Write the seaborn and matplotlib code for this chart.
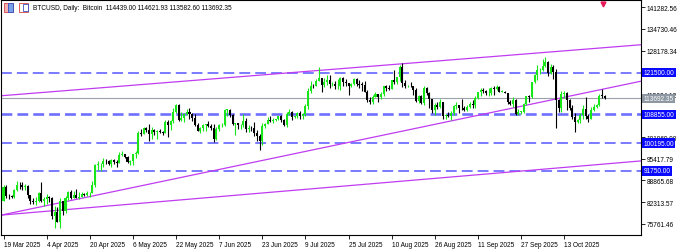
import numpy as np
import pandas as pd
import matplotlib
matplotlib.use("Agg")
import matplotlib.pyplot as plt
import matplotlib.dates as mdates
import matplotlib.transforms as mtransforms
from matplotlib.patches import Rectangle
import seaborn as sns

sns.set_theme(style="white")
plt.rcParams["font.family"] = ["Liberation Sans", "DejaVu Sans"]

# ---------------- data ----------------
start_date = "2025-03-19"
first_open = 82700

close_mar = [86850, 84200, 84050, 83830, 86080, 87500, 87400, 86900, 87200, 84350, 82650, 82400, 82550]
high_mar = [87400, 87450, 84800, 84500, 86300, 88750, 88500, 88300, 87800, 87500, 84600, 83500, 83900]
low_mar = [82600, 83700, 83200, 83650, 83700, 85600, 86300, 85900, 85900, 83600, 81650, 81600, 81300]

close_apr = [85150, 82500, 83100, 83850, 83500, 78200, 79200, 76300, 82600, 79600, 83400, 85300, 83700, 84500, 83650,
             84000, 84900, 84450, 85050, 85150, 87500, 93450, 93700, 93950, 94700, 94650, 93750, 94950, 94300, 94200]
high_apr = [85500, 88500, 83900, 84700, 84200, 83800, 81200, 80800, 83500, 82700, 84200, 85800, 86000, 85800, 86400,
            85500, 85500, 85100, 85600, 85400, 88800, 93800, 94700, 94000, 95700, 95300, 95200, 95500, 95400, 95200]
low_apr = [82400, 82300, 81200, 81700, 82400, 77200, 74400, 76200, 74600, 78500, 78900, 82800, 83100, 83700, 83600,
           83100, 83800, 84300, 84300, 83900, 85100, 87000, 91900, 91700, 92900, 93900, 93500, 92900, 93900, 92900]

close_may = [96500, 96900, 95900, 94300, 94750, 96850, 97050, 103250, 102950, 104650, 104100, 102800, 104150, 103550,
             103750, 103500, 103150, 106500, 105600, 106800, 109700, 111700, 107300, 107800, 109050, 109450, 108950,
             107800, 105650, 103900, 104600]
high_may = [97400, 97900, 96900, 96300, 95200, 96900, 97700, 103800, 104300, 104900, 105000, 105800, 104900, 104400,
            104000, 104500, 103700, 107100, 107100, 107300, 110800, 111900, 111900, 109500, 109300, 110400, 110700,
            109300, 108900, 106300, 104900]
low_may = [94100, 96300, 95700, 94100, 93500, 93400, 95800, 96900, 102300, 102800, 103400, 100700, 101400, 102600,
           101400, 103100, 102600, 103100, 102000, 104200, 106200, 109300, 106800, 106900, 106600, 108700, 107600,
           106800, 105400, 103700, 103100]

close_jun = [105650, 105800, 105450, 104700, 101550, 104350, 105600, 105750, 110250, 110250, 108700, 105950, 106100,
             105500, 105550, 106800, 104550, 104850, 104650, 103300, 102250, 100950, 105450, 106000, 107300, 106950,
             107100, 107350, 108350, 107150]
high_jun = [105900, 105900, 106800, 105900, 105900, 105000, 105900, 106400, 110500, 110600, 110400, 109000, 106200,
            106200, 106000, 108900, 107700, 105500, 105200, 106500, 104000, 103000, 106100, 106300, 108100, 108300,
            107700, 107500, 108500, 108800]
low_jun = [103900, 103700, 105000, 104200, 100400, 101100, 103900, 105100, 105400, 108400, 108100, 105700, 102700,
           104300, 104500, 104900, 103400, 103600, 103900, 102400, 100900, 98200, 99600, 104700, 105900, 106600,
           106300, 106800, 107200, 106700]

close_jul = [105700, 108850, 109600, 108000, 108250, 109200, 108250, 108950, 111300, 115950, 117500, 117450, 119100,
             119850, 117700, 118750, 119300, 117950, 117950, 117300, 117450, 119950, 118750, 118350, 117600, 117950,
             119450, 118000, 117850, 117800, 115750]
high_jul = [107500, 109700, 110600, 109800, 108500, 109700, 109800, 109200, 111900, 116800, 118900, 118200, 119500,
            123200, 119900, 120000, 120900, 120800, 118600, 118900, 119700, 120200, 120100, 119500, 118500, 118300,
            119800, 119800, 119300, 118800, 118900]
low_jul = [105300, 105100, 108600, 107300, 107800, 107800, 107500, 107500, 108400, 110600, 115300, 116900, 117300,
           118900, 115700, 117000, 117800, 116800, 117300, 116500, 116500, 116200, 117300, 117500, 114700, 117200,
           117800, 117500, 116900, 115800, 115500]

close_aug = [113300, 112550, 114200, 115050, 114150, 115000, 117500, 116700, 116500, 119300, 118700, 120150, 123350,
             118350, 117400, 117500, 117450, 116250, 112900, 114300, 112400, 116900, 115350, 113500, 110100, 111800,
             111200, 112550, 108400, 108800, 108250]
high_aug = [116100, 114000, 114700, 115700, 115100, 115700, 117600, 117700, 117900, 119300, 122300, 120300, 123700,
            124450, 119300, 117900, 118600, 117600, 116800, 114600, 114800, 117300, 117000, 115700, 113600, 112300,
            112500, 113400, 112600, 108900, 109500]
low_aug = [112700, 112000, 112000, 114100, 112700, 113400, 114300, 115900, 116300, 116500, 118100, 118200, 118900,
           117200, 116800, 117100, 117200, 114700, 112700, 112400, 112000, 111700, 114600, 110700, 109300, 108700,
           110400, 110900, 107500, 107400, 108100]

close_sep = [109250, 111250, 111700, 110700, 110650, 110200, 111150, 112100, 111550, 113950, 115500, 116100, 115950,
             115300, 115400, 116800, 116450, 117100, 115700, 115700, 115300, 112750, 112000, 113300, 109050, 109650,
             109650, 112150, 114400, 114050]
high_sep = [109900, 111800, 112600, 111800, 113400, 111300, 111600, 112600, 113200, 114300, 115600, 116700, 116700,
            116100, 116700, 117000, 117300, 117900, 117400, 116300, 116000, 115300, 113300, 114000, 113500, 110400,
            109800, 112400, 114500, 114800]
low_sep = [107300, 108600, 110600, 109400, 110200, 110000, 110000, 110700, 110800, 110900, 113400, 114300, 115200,
           114800, 114400, 114800, 114700, 116200, 115500, 115500, 115200, 111900, 111600, 111100, 108700, 108600,
           109100, 109300, 111600, 112700]

close_oct = [118600, 120650, 122250, 122400, 123500, 124750, 121450, 123350, 121700, 113200, 110700, 115150, 115300,
             113100, 110750, 108200, 106450, 107200, 108650, 110600, 108500, 107600, 110100, 111000, 111650, 114500,
             114439, 113692.35]
high_oct = [118700, 121000, 123900, 122900, 125700, 126200, 125100, 124100, 123800, 122500, 113500, 115800, 115900,
            115500, 113600, 111700, 109200, 107500, 109400, 111700, 114000, 109100, 111000, 112000, 111900, 115000,
            116400, 114621.93]
low_oct = [113900, 118300, 119400, 121000, 122000, 123100, 120600, 121100, 119700, 104600, 109700, 109700, 113800,
           110100, 110200, 107500, 103500, 106300, 106100, 107400, 107500, 106700, 107500, 109800, 110700, 111300,
           113800, 113582.6]

level_prices = [121500.00, 108855.00, 100195.00, 91750.00]
current_price = 113692.35

y_tick_values = [141282.56, 134730.46, 128178.34, 115024.12, 101969.90, 95417.79, 88865.68, 82313.57, 75761.46]
x_tick_dates = ["2025-03-19", "2025-04-04", "2025-04-20", "2025-05-06", "2025-05-22", "2025-06-07", "2025-06-23",
                "2025-07-09", "2025-07-25", "2025-08-10", "2025-08-26", "2025-09-11", "2025-09-27", "2025-10-13"]
x_tick_labels = ["19 Mar 2025", "4 Apr 2025", "20 Apr 2025", "6 May 2025", "22 May 2025", "7 Jun 2025",
                 "23 Jun 2025", "9 Jul 2025", "25 Jul 2025", "10 Aug 2025", "26 Aug 2025", "11 Sep 2025",
                 "27 Sep 2025", "13 Oct 2025"]

# trend lines: two anchor points each (date, price)
trend_upper = [("2025-03-19", 114550), ("2025-10-28", 129060)]
trend_mid = [("2025-03-19", 78520), ("2025-10-28", 116600)]
trend_lower = [("2025-03-19", 78430), ("2025-10-28", 93840)]

title_text = "BTCUSD, Daily:  Bitcoin  114439.00 114621.93 113582.60 113692.35"

# ---------------- assemble ----------------
close_prices = close_mar + close_apr + close_may + close_jun + close_jul + close_aug + close_sep + close_oct
high_prices = high_mar + high_apr + high_may + high_jun + high_jul + high_aug + high_sep + high_oct
low_prices = low_mar + low_apr + low_may + low_jun + low_jul + low_aug + low_sep + low_oct
open_prices = [first_open] + close_prices[:-1]

dates = pd.date_range(start_date, periods=len(close_prices), freq="D")
df = pd.DataFrame({"date": dates, "open": open_prices, "high": high_prices,
                   "low": low_prices, "close": close_prices})
xs = mdates.date2num(df["date"])
up = df["close"].values >= df["open"].values

BULL = "#19e619"
BEAR = "#000000"
colors = np.where(up, BULL, BEAR)
FS = 4.7

W, H = 681, 251
fig = plt.figure(figsize=(W / 100, H / 100), dpi=100)
fig.patch.set_facecolor("white")
ax = fig.add_axes([1 / W, 15 / H, 640 / W, 235 / H])
ax.set_facecolor("white")

x0 = xs[0]
ax.set_xlim(x0 - 0.93, x0 + 236.5)
ax.set_ylim(72350, 143480)

# level lines
for lv in level_prices:
    lw = 1.9 if lv == 108855.00 else 1.3
    ax.axhline(lv, color="#6f6fff", lw=lw, linestyle=(0, (6.0 * 1.3 / lw, 2.8 * 1.3 / lw)), zorder=1)

# current price line
ax.axhline(current_price, color="#9aa3ab", lw=0.8, zorder=1)

# trend lines
for line in (trend_upper, trend_mid, trend_lower):
    p1 = (mdates.date2num(pd.Timestamp(line[0][0])), line[0][1])
    p2 = (mdates.date2num(pd.Timestamp(line[1][0])), line[1][1])
    ax.axline(p1, p2, color="#c03cf0", lw=0.9, zorder=2)

# candles
ax.vlines(xs, df["low"], df["high"], colors=colors, lw=0.8, zorder=3)
body_low = np.minimum(df["open"].values, df["close"].values)
body_h = np.maximum(np.abs(df["close"].values - df["open"].values), 150)
ax.bar(xs, body_h, bottom=body_low, width=0.75, color=colors, linewidth=0, zorder=4)

# axes styling
for s in ax.spines.values():
    s.set_color("black")
    s.set_linewidth(0.8)
ax.grid(False)

ax.yaxis.tick_right()
ax.set_yticks(y_tick_values)
ax.set_yticklabels([f"{v:.2f}" for v in y_tick_values])
ax.tick_params(axis="y", which="both", direction="out", length=3, width=0.6, pad=1.2,
               labelsize=FS, colors="black", right=True, left=False)

ax.set_xticks(mdates.date2num(pd.to_datetime(x_tick_dates)))
ax.set_xticklabels(x_tick_labels, ha="left")
ax.tick_params(axis="x", which="both", direction="out", length=3, width=0.6, pad=1.5,
               labelsize=FS, colors="black", bottom=True)

# right-side value boxes
trans = mtransforms.blended_transform_factory(ax.transAxes, ax.transData)
for lv in level_prices:
    ax.text(1.004, lv, f"{lv:.2f}", transform=trans, ha="left", va="center", fontsize=FS,
            color="white", zorder=10, clip_on=False,
            bbox=dict(boxstyle="square,pad=0.2", fc="#0a0aff", ec="none"))
ax.text(1.004, current_price, f"{current_price:.2f}", transform=trans, ha="left", va="center",
        fontsize=FS, color="white", zorder=10, clip_on=False,
        bbox=dict(boxstyle="square,pad=0.2", fc="#8e98a2", ec="none"))

# small red marker at top right
trans2 = mtransforms.blended_transform_factory(ax.transData, ax.transAxes)
ax.plot([xs[-1] - 0.5], [0.985], marker="v", color="#e8195a", markersize=3.5, transform=trans2,
        clip_on=False, zorder=10)

# title with icons
fig.patches.append(Rectangle((4 / W, 1 - 13 / H), 9 / W, 9 / H, transform=fig.transFigure,
                             fc="#f4b0b0", ec="#d84040", lw=0.6))
fig.patches.append(Rectangle((8 / W, 1 - 13 / H), 5 / W, 9 / H, transform=fig.transFigure,
                             fc="#7aa0e8", ec="#3050c0", lw=0.6))
fig.patches.append(Rectangle((19 / W, 1 - 13 / H), 9 / W, 9 / H, transform=fig.transFigure,
                             fc="white", ec="#d84040", lw=0.6))
fig.patches.append(Rectangle((23 / W, 1 - 12 / H), 5 / W, 7 / H, transform=fig.transFigure,
                             fc="white", ec="#3050c0", lw=0.6))
fig.text(33 / W, 1 - 8.5 / H, title_text, fontsize=FS, va="center", ha="left", color="black")

fig.savefig("out.png", dpi=100, facecolor="white")
